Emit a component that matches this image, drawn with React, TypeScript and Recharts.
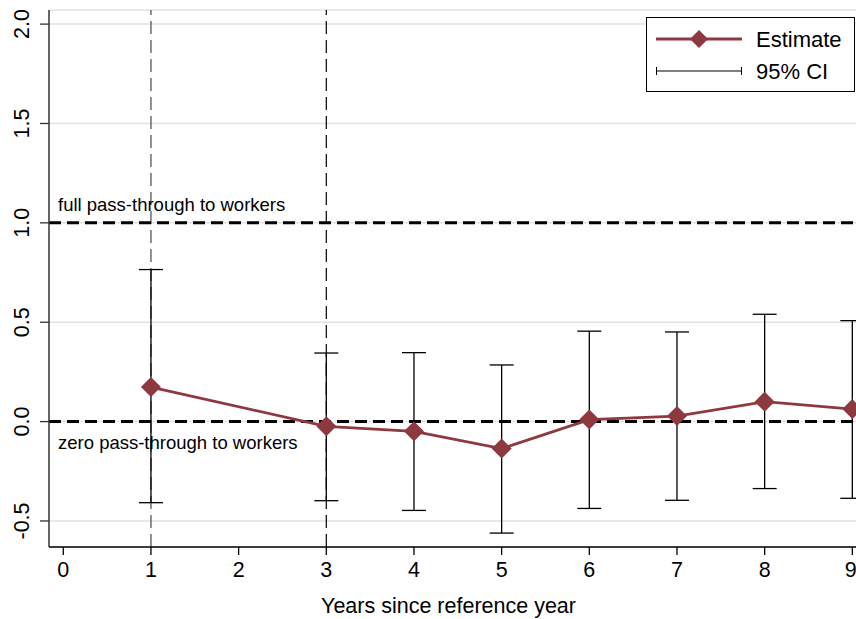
import { LineChart, Line, XAxis, YAxis, CartesianGrid, ReferenceLine, ErrorBar, Legend, Label } from "recharts";

const years = [1, 3, 4, 5, 6, 7, 8, 9];
const estimates = [0.174, -0.024, -0.049, -0.136, 0.01, 0.028, 0.1, 0.063];
const ciLow = [-0.408, -0.398, -0.447, -0.561, -0.437, -0.396, -0.337, -0.386];
const ciHigh = [0.765, 0.345, 0.347, 0.285, 0.455, 0.451, 0.54, 0.508];
const xTicks = [0, 1, 2, 3, 4, 5, 6, 7, 8, 9];
const yTicks = [-0.5, 0, 0.5, 1, 1.5, 2];

const data = years.map((year, i) => ({
  year,
  est: estimates[i],
  // ErrorBar wants distances from the value
  ci: [estimates[i] - ciLow[i], ciHigh[i] - estimates[i]],
}));

const maroon = "#8e3840";
const font = "'Liberation Sans', Arial, sans-serif";

const Diamond = (props: any) => {
  const { cx, cy, index } = props;
  if (cx == null || cy == null) return null;
  return (
    <path
      key={`d-${index}`}
      d={`M${cx},${cy - 10}L${cx + 10},${cy}L${cx},${cy + 10}L${cx - 10},${cy}Z`}
      fill={maroon}
    />
  );
};

const YTick = (props: any) => {
  const { y, payload } = props;
  return (
    <text
      transform={`translate(28.5,${y}) rotate(-90)`}
      textAnchor="middle"
      fontSize={21.5}
      fill="#000"
      fontFamily={font}
    >
      {Number(payload.value).toFixed(1)}
    </text>
  );
};

const LegendBox = () => (
  <svg width={210} height={76}>
    <rect x={0.5} y={0.5} width={208} height={74} fill="#fff" stroke="#000" strokeWidth={1} />
    <line x1={10} y1={22} x2={96} y2={22} stroke={maroon} strokeWidth={2.8} />
    <path d="M53,13L62,22L53,31L44,22Z" fill={maroon} />
    <text x={110} y={30} fontSize={22} fontFamily={font} fill="#000">Estimate</text>
    <line x1={10} y1={54} x2={96} y2={54} stroke="#000" strokeWidth={1} />
    <line x1={10.5} y1={50} x2={10.5} y2={58} stroke="#000" strokeWidth={1} />
    <line x1={95.5} y1={50} x2={95.5} y2={58} stroke="#000" strokeWidth={1} />
    <text x={110} y={62} fontSize={22} fontFamily={font} fill="#000">95% CI</text>
  </svg>
);

const refText = (text: string, dy: number) => (props: any) => {
  const vb = props.viewBox;
  return (
    <text x={vb.x + 9} y={vb.y + dy} fontSize={18.5} fontFamily={font} fill="#000">
      {text}
    </text>
  );
};

export default function App() {
  return (
    <div style={{ position: "absolute", left: 0, top: 0, width: 856, height: 619, overflow: "hidden", background: "#fff" }}>
      <LineChart
        width={856}
        height={619}
        data={data}
        margin={{ top: 10, right: 0, left: 0, bottom: 0 }}
        style={{ fontFamily: font }}
      >
        <CartesianGrid horizontal vertical={false} stroke="#e2e2e2" strokeWidth={1.5} />
        <XAxis
          dataKey="year"
          type="number"
          domain={[-0.163, 9.042]}
          ticks={xTicks}
          allowDataOverflow
          height={72}
          tickSize={8}
          tickMargin={7}
          tick={{ fontSize: 21.5, fill: "#000", fontFamily: font }}
          axisLine={{ stroke: "#000", strokeWidth: 1.3 }}
          tickLine={{ stroke: "#000", strokeWidth: 1.3 }}
        >
          <Label
            content={(p: any) => (
              <text
                x={p.viewBox.x + p.viewBox.width / 2 - 4}
                y={612.5}
                textAnchor="middle"
                fontSize={21.5}
                fontFamily={font}
                fill="#000"
              >
                Years since reference year
              </text>
            )}
          />
        </XAxis>
        <YAxis
          type="number"
          domain={[-0.631, 2.071]}
          ticks={yTicks}
          allowDataOverflow
          width={49}
          tickSize={9}
          tick={<YTick />}
          axisLine={{ stroke: "#333", strokeWidth: 1.5 }}
          tickLine={{ stroke: "#333", strokeWidth: 1.3 }}
        />
        <ReferenceLine x={1} stroke="#555" strokeWidth={1.3} strokeDasharray="13 6" />
        <ReferenceLine x={3} stroke="#000" strokeWidth={1.2} strokeDasharray="13 6" />
        <ReferenceLine
          y={1}
          stroke="#000"
          strokeWidth={3}
          strokeDasharray="12 6"
          label={refText("full pass-through to workers", -12)}
        />
        <ReferenceLine
          y={0}
          stroke="#000"
          strokeWidth={3}
          strokeDasharray="12 6"
          label={refText("zero pass-through to workers", 27)}
        />
        <Line
          dataKey="est"
          stroke={maroon}
          strokeWidth={2.8}
          dot={<Diamond />}
          activeDot={false}
          isAnimationActive={false}
        >
          <ErrorBar dataKey="ci" width={12} stroke="#000" strokeWidth={1.3} direction="y" isAnimationActive={false} />
        </Line>
        <Legend
          layout="horizontal"
          verticalAlign="middle"
          align="center"
          content={<LegendBox />}
          wrapperStyle={{ position: "absolute", left: 646, top: 17, width: 210, height: 76 }}
        />
      </LineChart>
    </div>
  );
}
